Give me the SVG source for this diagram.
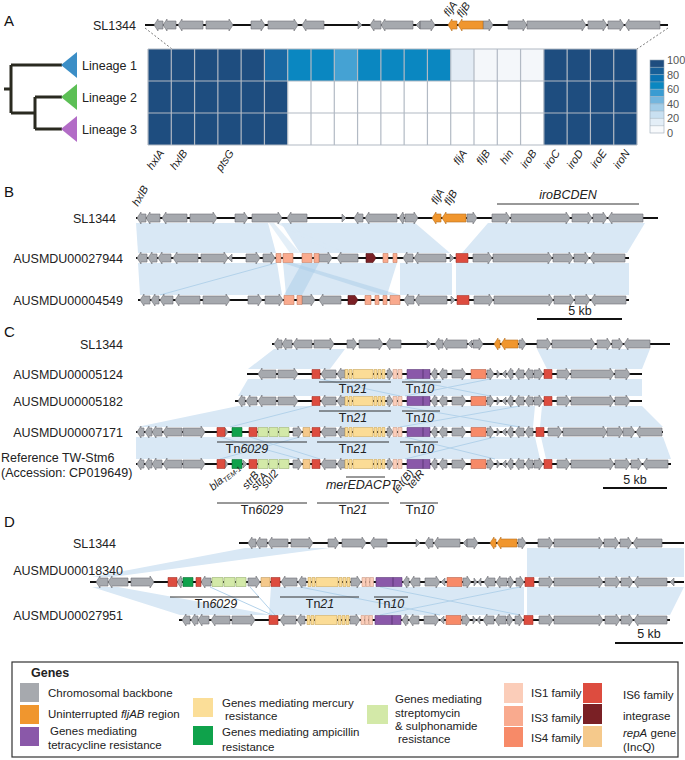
<svg xmlns="http://www.w3.org/2000/svg" xmlns:xlink="http://www.w3.org/1999/xlink" width="685" height="760" viewBox="0 0 685 760">
<style>
.g{fill:#a6a9ae;stroke:#6e7176;stroke-width:.6}
.o{fill:#f0962e;stroke:#b8701f;stroke-width:.6}
.p{fill:#8a58a9;stroke:#5e3a78;stroke-width:.6}
.y{fill:#fbdc96;stroke:#c9a65a;stroke-width:.6}
.gn{fill:#0fa24b;stroke:#0a6e33;stroke-width:.6}
.lg{fill:#d3e9a8;stroke:#98b071;stroke-width:.6}
.i1{fill:#fbcdb9;stroke:#c99a86;stroke-width:.6}
.i3{fill:#f9aa8e;stroke:#c47c62;stroke-width:.6}
.i4{fill:#f78a68;stroke:#b8604a;stroke-width:.6}
.i6{fill:#dd4c3f;stroke:#a3322a;stroke-width:.6}
.in{fill:#7a2025;stroke:#4e1215;stroke-width:.6}
.rp{fill:#f5c98b;stroke:#c09a60;stroke-width:.6}
.ln{stroke:#111;stroke-width:2;fill:none}
.sh{fill:#d9e8f5}
.xl{stroke:#b3d2ea;stroke-width:1;fill:none}
.t{font-family:"Liberation Sans",Arial,sans-serif;font-size:12.5px;fill:#222}
.s11{font-family:"Liberation Sans",Arial,sans-serif;font-size:11px;fill:#222}
.lt{font-family:"Liberation Sans",Arial,sans-serif;font-size:11.5px;fill:#222}
.it{font-style:italic}
.pl{font-family:"Liberation Sans",Arial,sans-serif;font-size:15px;fill:#111}
.bar{stroke:#111;stroke-width:2}
.tn{stroke:#333;stroke-width:1}
</style>
<defs>
<g id="bR"><path class="g" d="M403 0l4-6v2H413v8H407v2zM414 0l4-6v2H446v8H418v2zM450 -4l4 4-4 4zM473 -4H488v-2l4 6-4 6v-2H473zM493 -4H548v-2l4 6-4 6v-2H493zM553 -4H569v-2l4 6-4 6v-2H553zM574 -4H585v-2l4 6-4 6v-2H574zM590 0l4-6v2H625v8H594v2z"/><path class="i6" d="M456 -4.5H468v9H456z"/></g>
<g id="cT"><path class="g" d="M321 0l4-6v2H336v8H325v2zM337 0l4-6v2H345v8H341v2zM387 -4H389v-2l4 6-4 6v-2H387zM431 0l4-6v2H437v8H435v2zM439 0l4-6v2H447v8H443v2zM452 -4H462v-2l4 6-4 6v-2H452zM487 -4H490v-2l4 6-4 6v-2H487zM497 -4l3 4-3 4zM506 -4l-4 4 4 4zM507 0l4-6v2H513v8H511v2zM515 0l4-6v2H524v8H519v2zM525 0l4-6v2H533v8H529v2z"/><path class="i6" d="M312 -4.5H320v9H312z"/><path class="y" d="M345 -4.5h3v9h-3zM349 -4.5h3v9h-3zM353 -4.5H373v9H353zM374 -4.5h3v9h-3zM378 -4.5h3v9h-3zM382 -4.5h3v9h-3z"/><path class="i1" d="M393 -4.5h4v9h-4zM398 -4.5h4v9h-4z"/><path class="p" d="M407 -4.5H423v9H407zM423 -4.5H430v9H423z"/><path class="i4" d="M471 -4.5H486v9H471z"/></g>
<g id="cL"><path class="g" d="M137 0l4-6v2H144v8H141v2zM145 0l4-6v2H152v8H149v2zM152 0l4-6v2H162v8H156v2zM163 0l4-6v2H182v8H167v2zM183 -4H201v-2l4 6-4 6v-2H183zM225 -4l3 4-3 4zM293 -4H298v-2l4 6-4 6v-2H293z"/><path class="i6" d="M217 -4.5H225v9H217zM249 -4.5H257v9H249z"/><path class="gn" d="M232 -4.5H242v9H232z"/><path class="lg" d="M258 -4.5H268v9H258zM269 -4.5H278v9H269zM279 -4.5H289v9H279z"/><path class="rp" d="M303 -4.5H310v9H303z"/></g>
<g id="cR"><path class="g" d="M534 -4H539v-2l4 6-4 6v-2H534zM557 -4H566v-2l4 6-4 6v-2H557zM571 -4H610v-2l4 6-4 6v-2H571zM615 -4H626v-2l4 6-4 6v-2H615z"/><path class="i6" d="M544 -4.5H552v9H544z"/></g>
<g id="dM"><path class="g" d="M281 0l4-6v2H297v8H285v2zM298 0l4-6v2H306v8H302v2zM351 -4H357v-2l4 6-4 6v-2H351zM403 0l4-6v2H409v8H407v2zM410 0l4-6v2H420v8H414v2zM425 -4H436v-2l4 6-4 6v-2H425zM445 -4l-4 4 4 4zM463 -4H467v-2l4 6-4 6v-2H463zM474 -4l3 4-3 4zM481 -4l-3 4 3 4zM484 0l4-6v2H495v8H488v2zM496 0l4-6v2H507v8H500v2zM508 -4H510v-2l4 6-4 6v-2H508zM516 -4H520v-2l4 6-4 6v-2H516z"/><path class="y" d="M308 -4.5h3v9h-3zM312 -4.5h3v9h-3zM316 -4.5H338v9H316zM339 -4.5h3v9h-3zM343 -4.5h3v9h-3zM347 -4.5h3v9h-3z"/><path class="i1" d="M362 -4.5h3.5v9h-3.5zM366 -4.5h3.5v9h-3.5zM370 -4.5h3.5v9h-3.5z"/><path class="p" d="M376 -4.5H393v9H376zM393 -4.5H402v9H393z"/><path class="i4" d="M447 -4.5H462v9H447z"/><path class="i6" d="M525 -4.5H534v9H525z"/></g>
<g id="dR"><path class="g" d="M539 -4H549v-2l4 6-4 6v-2H539zM554 -4H599v-2l4 6-4 6v-2H554zM605 -4H616v-2l4 6-4 6v-2H605zM621 -4H629v-2l4 6-4 6v-2H621zM634 0l4-6v2H667v8H638v2z"/></g>
</defs>
<rect width="685" height="760" fill="#fff"/>

<!-- connectors / shading -->
<g id="connectors">
<path d="M145 28L172 49M668 28L637 49" stroke="#555" stroke-width=".8" stroke-dasharray="2,2" fill="none"/>
<polygon class="sh" points="136,223 268,223 276,253 138,253"/>
<polygon class="sh" points="281,223 415,223 450,253 300,253"/>
<polygon class="sh" points="269,223 274,223 300,253 290,253" opacity=".7"/>
<polygon class="sh" points="276,223 280,223 345,253 335,253" opacity=".7"/>
<polygon class="sh" points="488,223 645,223 627,253 462,253"/>
<polygon class="sh" points="138,263 277,263 282,295 140,295"/>
<polygon class="sh" points="283,263 397,263 387,295 286,295"/>
<polygon class="sh" points="400,263 452,263 452,295 400,295"/>
<polygon class="sh" points="456,263 629,263 629,295 456,295"/>
<polygon points="283,263 293,263 400,295 383,295" fill="#a9cbe8" opacity=".5"/>
<polygon points="302,263 319,263 302,295 284,295" fill="#a9cbe8" opacity=".5"/>
<path class="xl" d="M160 295L276 263"/>
<polygon class="sh" points="274,349 345,349 330,369 248,369"/>
<polygon class="sh" points="537,349 650,349 642,369 547,369"/>
<polygon class="sh" points="248,379 642,379 642,396 238,396"/>
<polygon class="sh" points="238,406 535,406 533,427 137,427"/>
<polygon class="sh" points="542,406 642,406 663,427 540,427"/>
<polygon class="sh" points="136,437 535,437 540,459 136,459"/>
<polygon class="sh" points="541,437 663,437 671,459 546,459"/>
<path class="xl" d="M405 379L490 396M490 379L405 396M320 379L400 396M400 406L520 427M520 406L400 427M312 406L230 427M220 437L300 459M300 437L220 459M250 437L320 459M405 437L495 459M495 437L405 459"/>
<polygon class="sh" points="245,548 330,548 112,577 92,577"/>
<polygon class="sh" points="527,548 684,548 684,577 527,577"/>
<polygon class="sh" points="92,587 118,587 272,615 180,615"/>
<polygon class="sh" points="271,587 524,587 524,615 269,615"/>
<polygon class="sh" points="527,587 684,587 670,615 527,615"/>
<path class="xl" d="M210 587L272 615M250 587L275 615M380 587L520 615M520 587L380 615M300 587L440 615"/>
</g>

<!-- Panel labels -->
<text class="pl" x="4" y="26">A</text>
<text class="pl" x="4" y="197">B</text>
<text class="pl" x="4" y="337">C</text>
<text class="pl" x="4" y="527">D</text>

<!-- Panel A -->
<g id="A-SL1344">
<text class="t" x="136" y="29.5" text-anchor="end">SL1344</text>
<g transform="translate(0,25)">
<path class="ln" d="M145 0H668"/>
<path class="g" d="M154 0l4-6v2H163v8H158v2zM163 0l4-6v2H176v8H167v2zM178 0l4-6v2H203v8H182v2zM206 -4H229v-2l4 6-4 6v-2H206zM251 -4H261v-2l4 6-4 6v-2H251zM268 -4H294v-2l4 6-4 6v-2H268zM302 0l4-6v2H324v8H306v2zM358 -4l4 4-4 4zM370 0l4-6v2H381v8H374v2zM381 0l4-6v2H413v8H385v2zM420 -4l-4 4 4 4zM420 -4H431v-2l4 6-4 6v-2H420zM483 -4H489v-2l4 6-4 6v-2H483zM508 -4H523v-2l4 6-4 6v-2H508zM527 -4H582v-2l4 6-4 6v-2H527zM588 -4H603v-2l4 6-4 6v-2H588zM608 -4H620v-2l4 6-4 6v-2H608zM625 0l4-6v2H660v8H629v2z"/>
<path class="o" d="M448 0l4-6v2H457v8H452v2zM458 0l4-6v2H483v8H462v2z"/>
</g>
<text class="s11 it" transform="translate(449,17) rotate(-55)">fljA</text>
<text class="s11 it" transform="translate(462,18) rotate(-55)">fljB</text>
</g>

<g id="tree">
<path d="M4 89H11M11 65V113M11 65H62M11 113H35M35 97V129M35 97H62M35 129H62" stroke="#2a2a20" stroke-width="3" fill="none"/>
</g>
<g id="lineage1"><polygon points="61,65 77,52 77,78" fill="#3b8ec6"/><text class="t" x="82" y="69.5">Lineage 1</text></g>
<g id="lineage2"><polygon points="61,97 77,84 77,110" fill="#5cbf55"/><text class="t" x="82" y="101.5">Lineage 2</text></g>
<g id="lineage3"><polygon points="61,129 77,116 77,142" fill="#b26cc6"/><text class="t" x="82" y="133.5">Lineage 3</text></g>

<g id="heatmap">
<rect x="148" y="49" width="116.43" height="32" fill="#1e4d7f"/>
<rect x="264.43" y="49" width="23.28" height="32" fill="#1868a3"/>
<rect x="287.71" y="49" width="46.58" height="32" fill="#0a87c1"/>
<rect x="334.29" y="49" width="23.28" height="32" fill="#45a2d3"/>
<rect x="357.57" y="49" width="93.14" height="32" fill="#0a87c1"/>
<rect x="450.71" y="49" width="23.29" height="32" fill="#e3ecf5"/>
<rect x="474" y="49" width="69.86" height="32" fill="#f4f7fa"/>
<rect x="543.86" y="49" width="93.14" height="32" fill="#1e4d7f"/>
<rect x="148" y="81" width="139.71" height="64" fill="#1e4d7f"/>
<rect x="287.71" y="81" width="256.15" height="64" fill="#fff"/>
<rect x="543.86" y="81" width="93.14" height="64" fill="#1e4d7f"/>
<path d="M148 49V145M171.29 49V145M194.57 49V145M217.86 49V145M241.14 49V145M264.43 49V145M287.71 49V145M311 49V145M334.29 49V145M357.57 49V145M380.86 49V145M404.14 49V145M427.43 49V145M450.71 49V145M474 49V145M497.29 49V145M520.57 49V145M543.86 49V145M567.14 49V145M590.43 49V145M613.71 49V145M637 49V145M148 49H637M148 81H637M148 113H637M148 145H637" stroke="#b2bac4" stroke-width="1.2" fill="none"/>
<text class="s11 it" text-anchor="end" transform="translate(164.6,153) rotate(-55)">hxlA</text>
<text class="s11 it" text-anchor="end" transform="translate(187.9,153) rotate(-55)">hxlB</text>
<text class="s11 it" text-anchor="end" transform="translate(234.5,153) rotate(-55)">ptsG</text>
<text class="s11 it" text-anchor="end" transform="translate(467.4,153) rotate(-55)">fljA</text>
<text class="s11 it" text-anchor="end" transform="translate(490.6,153) rotate(-55)">fljB</text>
<text class="s11 it" text-anchor="end" transform="translate(513.9,153) rotate(-55)">hin</text>
<text class="s11 it" text-anchor="end" transform="translate(537.2,153) rotate(-55)">iroB</text>
<text class="s11 it" text-anchor="end" transform="translate(560.5,153) rotate(-55)">iroC</text>
<text class="s11 it" text-anchor="end" transform="translate(583.8,153) rotate(-55)">iroD</text>
<text class="s11 it" text-anchor="end" transform="translate(607.1,153) rotate(-55)">iroE</text>
<text class="s11 it" text-anchor="end" transform="translate(630.4,153) rotate(-55)">iroN</text>
</g>

<g id="colorbar">
<rect x="650" y="60" width="14" height="7.3" fill="#1e4d7f"/>
<rect x="650" y="67.3" width="14" height="7.3" fill="#175f98"/>
<rect x="650" y="74.6" width="14" height="7.3" fill="#0a73b3"/>
<rect x="650" y="81.9" width="14" height="7.3" fill="#0a87c1"/>
<rect x="650" y="89.2" width="14" height="7.3" fill="#3a9cd2"/>
<rect x="650" y="96.5" width="14" height="7.3" fill="#74b6de"/>
<rect x="650" y="103.8" width="14" height="7.3" fill="#a3cde8"/>
<rect x="650" y="111.1" width="14" height="7.3" fill="#c9e0f1"/>
<rect x="650" y="118.4" width="14" height="7.3" fill="#e3eef7"/>
<rect x="650" y="125.7" width="14" height="7.3" fill="#f8fafc"/>
<path d="M650 67.3H664M650 74.6H664M650 81.9H664M650 89.2H664M650 96.5H664M650 103.8H664M650 111.1H664M650 118.4H664M650 125.7H664" stroke="#9aa8b6" stroke-width=".5"/>
<rect x="650" y="60" width="14" height="73" fill="none" stroke="#9aa8b6" stroke-width=".6"/>
<g class="s11" style="fill:#555">
<text x="667" y="64">100</text><text x="667" y="78.6">80</text><text x="667" y="93.2">60</text><text x="667" y="107.8">40</text><text x="667" y="122.4">20</text><text x="667" y="137">0</text>
</g>
</g>

<!-- Panel B -->
<g id="B-SL1344">
<text class="t" x="116" y="222.5" text-anchor="end">SL1344</text>
<g transform="translate(0,218)">
<path class="ln" d="M136 0H658"/>
<path class="g" d="M137 0l4-6v2H146v8H141v2zM146 0l4-6v2H160v8H150v2zM162 0l4-6v2H187v8H166v2zM190 -4H213v-2l4 6-4 6v-2H190zM235 -4H244v-2l4 6-4 6v-2H235zM252 -4H278v-2l4 6-4 6v-2H252zM287 0l4-6v2H307v8H291v2zM342 -4l4 4-4 4zM354 0l4-6v2H363v8H358v2zM365 0l4-6v2H397v8H369v2zM399 0l4-6v2H404v8H403v2zM405 -4H414v-2l4 6-4 6v-2H405zM467 -4H473v-2l4 6-4 6v-2H467zM492 -4H506v-2l4 6-4 6v-2H492zM511 -4H566v-2l4 6-4 6v-2H511zM572 -4H588v-2l4 6-4 6v-2H572zM593 -4H603v-2l4 6-4 6v-2H593zM608 0l4-6v2H643v8H612v2z"/>
<path class="o" d="M432 0l4-6v2H441v8H436v2zM442 0l4-6v2H466v8H446v2z"/>
</g>
<text class="s11 it" transform="translate(138,207) rotate(-60)">hxlB</text>
<text class="s11 it" transform="translate(437,205) rotate(-60)">fljA</text>
<text class="s11 it" transform="translate(450,206) rotate(-60)">fljB</text>
<path class="tn" d="M497 204H639"/>
<text class="t it" x="568" y="199" text-anchor="middle">iroBCDEN</text>
</g>

<g id="B-AUSMDU00027944">
<text class="t" x="123" y="262.5" text-anchor="end">AUSMDU00027944</text>
<g transform="translate(0,258)">
<path class="ln" d="M136 0H629"/>
<path class="g" d="M137 0l4-6v2H147v8H141v2zM148 0l4-6v2H157v8H152v2zM158 0l4-6v2H171v8H162v2zM173 0l4-6v2H198v8H177v2zM201 -4H224v-2l4 6-4 6v-2H201zM232 -4l-4 4 4 4zM246 -4H256v-2l4 6-4 6v-2H246zM263 -4H271v-2l4 6-4 6v-2H263zM319 -4H328v-2l4 6-4 6v-2H319zM337 0l4-6v2H358v8H341v2z"/>
<path class="i3" d="M276 -4.5H281v9H276zM283 -4.5H293v9H283zM302 -4.5H312v9H302zM314 -4.5H319v9H314zM383 -4.5H388v9H383zM393 -4.5H397v9H393z"/>
<path class="in" d="M366 -4.5H373l3 4.5-3 4.5H366z"/>
<use xlink:href="#bR" href="#bR"/>
</g>
</g>

<g id="B-AUSMDU00004549">
<text class="t" x="123" y="304.5" text-anchor="end">AUSMDU00004549</text>
<g transform="translate(0,300)">
<path class="ln" d="M138 0H629"/>
<path class="g" d="M140 0l4-6v2H150v8H144v2zM151 0l4-6v2H159v8H155v2zM160 0l4-6v2H173v8H164v2zM175 0l4-6v2H200v8H179v2zM203 -4H226v-2l4 6-4 6v-2H203zM248 -4H258v-2l4 6-4 6v-2H248zM265 -4H279v-2l4 6-4 6v-2H265zM302 -4H311v-2l4 6-4 6v-2H302zM319 0l4-6v2H341v8H323v2z"/>
<path class="i3" d="M284 -4.5H294v9H284zM297 -4.5H302v9H297zM365 -4.5H371v9H365zM375 -4.5H379v9H375zM383 -4.5H387v9H383zM390 -4.5H400v9H390z"/>
<path class="in" d="M348 -4.5H355l3 4.5-3 4.5H348z"/>
<use xlink:href="#bR" href="#bR" x="1"/>
</g>
</g>

<g id="B-scale">
<path class="bar" d="M537 319H622"/>
<text class="t" x="580" y="315" text-anchor="middle">5 kb</text>
</g>

<!-- Panel C -->
<g id="C-SL1344">
<text class="t" x="123" y="348.5" text-anchor="end">SL1344</text>
<g transform="translate(0,344)">
<path class="ln" d="M272 0H670"/>
<path class="g" d="M274 0l4-6v2H282v8H278v2zM282 0l4-6v2H292v8H286v2zM293 0l4-6v2H312v8H297v2zM314 -4H330v-2l4 6-4 6v-2H314zM347 -4H353v-2l4 6-4 6v-2H347zM359 -4H379v-2l4 6-4 6v-2H359zM386 0l4-6v2H401v8H390v2zM427 -4l4 4-4 4zM435 0l4-6v2H443v8H439v2zM443 0l4-6v2H467v8H447v2zM472 -4l-4 4 4 4zM473 -4H479v-2l4 6-4 6v-2H473zM519 -4H522v-2l4 6-4 6v-2H519zM537 -4H547v-2l4 6-4 6v-2H537zM552 -4H591v-2l4 6-4 6v-2H552zM597 -4H607v-2l4 6-4 6v-2H597zM612 -4H619v-2l4 6-4 6v-2H612zM624 0l4-6v2H650v8H628v2z"/>
<path class="o" d="M494 0l4-6v2H500v8H498v2zM501 0l4-6v2H518v8H505v2z"/>
</g>
</g>

<g id="C-AUSMDU00005124">
<text class="t" x="123" y="378.5" text-anchor="end">AUSMDU00005124</text>
<g transform="translate(0,374)">
<path class="ln" d="M247 0H642"/>
<path class="g" d="M258 0l4-6v2H276v8H262v2zM278 -4H294v-2l4 6-4 6v-2H278z"/>
<use xlink:href="#cT" href="#cT"/><use xlink:href="#cR" href="#cR"/>
</g>
<path class="tn" d="M319 382H391M402 382H441"/>
<text class="t" x="353" y="393" text-anchor="middle">Tn<tspan class="it">21</tspan></text>
<text class="t" x="420" y="393" text-anchor="middle">Tn<tspan class="it">10</tspan></text>
</g>

<g id="C-AUSMDU00005182">
<text class="t" x="123" y="405.5" text-anchor="end">AUSMDU00005182</text>
<g transform="translate(0,401)">
<path class="ln" d="M235 0H642"/>
<path class="g" d="M238 0l4-6v2H245v8H242v2zM246 0l4-6v2H257v8H250v2zM258 0l4-6v2H276v8H262v2zM278 -4H294v-2l4 6-4 6v-2H278z"/>
<use xlink:href="#cT" href="#cT"/><use xlink:href="#cR" href="#cR"/>
</g>
<path class="tn" d="M319 411H391M402 411H440"/>
<text class="t" x="353" y="422" text-anchor="middle">Tn<tspan class="it">21</tspan></text>
<text class="t" x="420" y="422" text-anchor="middle">Tn<tspan class="it">10</tspan></text>
</g>

<g id="C-AUSMDU00007171">
<text class="t" x="123" y="436.5" text-anchor="end">AUSMDU00007171</text>
<g transform="translate(0,432)">
<path class="ln" d="M136 0H663"/>
<use xlink:href="#cL" href="#cL"/><use xlink:href="#cT" href="#cT"/>
<path class="g" d="M548 -4H558v-2l4 6-4 6v-2H548zM563 -4H603v-2l4 6-4 6v-2H563zM607 -4H619v-2l4 6-4 6v-2H607zM623 -4H631v-2l4 6-4 6v-2H623zM636 0l4-6v2H662v8H640v2z"/>
<path class="i6" d="M536 -4.5H544v9H536z"/>
</g>
<path class="tn" d="M217 442H307M317 442H389M400 442H438"/>
<text class="t" x="247" y="453" text-anchor="middle">Tn<tspan class="it">6029</tspan></text>
<text class="t" x="353" y="453" text-anchor="middle">Tn<tspan class="it">21</tspan></text>
<text class="t" x="420" y="453" text-anchor="middle">Tn<tspan class="it">10</tspan></text>
</g>

<g id="C-TW-Stm6">
<text class="t" x="1" y="462">Reference TW-Stm6</text>
<text class="t" x="1" y="477">(Accession: CP019649)</text>
<g transform="translate(0,464)">
<path class="ln" d="M136 0H671"/>
<use xlink:href="#cL" href="#cL"/><use xlink:href="#cT" href="#cT"/><use xlink:href="#cR" href="#cR"/>
<path class="g" d="M243 -4l4 4-4 4zM631 -4H638v-2l4 6-4 6v-2H631zM643 0l4-6v2H668v8H647v2z"/>
</g>
<text class="s11 it" transform="translate(213,491) rotate(-40)">bla<tspan font-size="7" dy="2">TEM-1</tspan></text>
<text class="s11 it" transform="translate(247,490) rotate(-50)">strB</text>
<text class="s11 it" transform="translate(256,491) rotate(-50)">strA</text>
<text class="s11 it" transform="translate(266,489) rotate(-50)">sul2</text>
<path class="tn" d="M346 477H385"/>
<text class="t it" x="362" y="489" text-anchor="middle">merEDACPT</text>
<text class="s11 it" transform="translate(397,494) rotate(-50)">tet(B)</text>
<text class="s11 it" transform="translate(412,489) rotate(-50)">tetR</text>
<path class="tn" d="M217 503H307M317 503H389M400 503H438"/>
<text class="t" x="262" y="514" text-anchor="middle">Tn<tspan class="it">6029</tspan></text>
<text class="t" x="353" y="514" text-anchor="middle">Tn<tspan class="it">21</tspan></text>
<text class="t" x="420" y="514" text-anchor="middle">Tn<tspan class="it">10</tspan></text>
</g>

<g id="C-scale">
<path class="bar" d="M603 488H667"/>
<text class="t" x="635" y="484" text-anchor="middle">5 kb</text>
</g>

<!-- Panel D -->
<g id="D-SL1344">
<text class="t" x="116" y="547.5" text-anchor="end">SL1344</text>
<g transform="translate(0,543)">
<path class="ln" d="M239 0H684"/>
<path class="g" d="M248 0l4-6v2H256v8H252v2zM256 0l4-6v2H267v8H260v2zM268 0l4-6v2H288v8H272v2zM291 -4H309v-2l4 6-4 6v-2H291zM328 -4H335v-2l4 6-4 6v-2H328zM342 -4H362v-2l4 6-4 6v-2H342zM370 0l4-6v2H387v8H374v2zM416 -4l4 4-4 4zM425 0l4-6v2H433v8H429v2zM434 0l4-6v2H460v8H438v2zM467 -4l-4 4 4 4zM467 -4H474v-2l4 6-4 6v-2H467zM518 -4H522v-2l4 6-4 6v-2H518zM538 -4H549v-2l4 6-4 6v-2H538zM554 -4H599v-2l4 6-4 6v-2H554zM604 -4H615v-2l4 6-4 6v-2H604zM620 -4H628v-2l4 6-4 6v-2H620zM633 0l4-6v2H662v8H637v2z"/>
<path class="o" d="M490 0l4-6v2H496v8H494v2zM497 0l4-6v2H517v8H501v2z"/>
</g>
</g>

<g id="D-AUSMDU00018340">
<text class="t" x="123" y="574.5" text-anchor="end">AUSMDU00018340</text>
<g transform="translate(0,582)">
<path class="ln" d="M90 0H684"/>
<path class="g" d="M96 0l4-6v2H108v8H100v2zM108 0l4-6v2H128v8H112v2zM131 -4H150v-2l4 6-4 6v-2H131zM177 0l4-6v2H182v8H181v2zM201 0l4-6v2H211v8H205v2zM248 -4H256v-2l4 6-4 6v-2H248zM674 -4l-4 4 4 4z"/>
<path class="i6" d="M168 -4.5H177v9H168zM196 -4.5H201v9H196zM271 -4.5H280v9H271z"/>
<path class="gn" d="M183 -4.5H193v9H183z"/>
<path class="lg" d="M212 -4.5H223v9H212zM224 -4.5H235v9H224zM236 -4.5H246v9H236z"/>
<path class="rp" d="M261 -4.5H270v9H261z"/>
<use xlink:href="#dM" href="#dM"/><use xlink:href="#dR" href="#dR"/>
</g>
<path class="tn" d="M170 597H259M280 597H359M374 597H408"/>
<text class="t" x="216" y="608" text-anchor="middle">Tn<tspan class="it">6029</tspan></text>
<text class="t" x="320" y="608" text-anchor="middle">Tn<tspan class="it">21</tspan></text>
<text class="t" x="390" y="608" text-anchor="middle">Tn<tspan class="it">10</tspan></text>
</g>

<g id="D-AUSMDU00027951">
<text class="t" x="123" y="619.5" text-anchor="end">AUSMDU00027951</text>
<g transform="translate(0,620)">
<path class="ln" d="M179 0H670"/>
<path class="g" d="M182 0l4-6v2H190v8H186v2zM191 0l4-6v2H198v8H195v2zM198 0l4-6v2H209v8H202v2zM211 0l4-6v2H230v8H215v2zM232 -4H251v-2l4 6-4 6v-2H232z"/>
<path class="i6" d="M269 -4.5H278v9H269z"/>
<use xlink:href="#dM" href="#dM" x="-1"/><use xlink:href="#dR" href="#dR"/>
</g>
</g>

<g id="D-scale">
<path class="bar" d="M615 643H683"/>
<text class="t" x="649" y="638" text-anchor="middle">5 kb</text>
</g>

<!-- Legend -->
<g id="legend">
<rect x="12" y="662" width="666" height="95" fill="#fff" stroke="#333" stroke-width="1.2"/>
<text class="t" x="31" y="677" font-weight="bold">Genes</text>
<rect x="20" y="683" width="19" height="19" fill="#a6a9ae"/>
<rect x="20" y="705" width="19" height="19" fill="#f0962e"/>
<rect x="20" y="727" width="19" height="19" fill="#8a58a9"/>
<text class="lt" x="48" y="697">Chromosomal backbone</text>
<text class="lt" x="48" y="718">Uninterrupted <tspan class="it">fljAB</tspan> region</text>
<text class="lt" x="50" y="735">Genes mediating</text>
<text class="lt" x="48" y="749">tetracycline resistance</text>
<rect x="193" y="698" width="20" height="19" fill="#fbde98"/>
<rect x="193" y="726" width="20" height="19" fill="#0fa24b"/>
<text class="lt" x="222" y="707">Genes mediating mercury</text>
<text class="lt" x="225" y="720">resistance</text>
<text class="lt" x="222" y="736">Genes mediating ampicillin</text>
<text class="lt" x="222" y="751">resistance</text>
<rect x="367" y="705" width="21" height="19" fill="#d3e9a8"/>
<text class="lt" x="395" y="703">Genes mediating</text>
<text class="lt" x="395" y="717">streptomycin</text>
<text class="lt" x="395" y="730">&amp; sulphonamide</text>
<text class="lt" x="398" y="743">resistance</text>
<rect x="504" y="683" width="19" height="20" fill="#fbcdb9"/>
<rect x="504" y="706" width="19" height="20" fill="#f9aa8e"/>
<rect x="504" y="727" width="19" height="20" fill="#f78a68"/>
<text class="lt" x="531" y="697">IS<tspan>1</tspan> family</text>
<text class="lt" x="531" y="722">IS3 family</text>
<text class="lt" x="531" y="742">IS4 family</text>
<rect x="583" y="683" width="19" height="20" fill="#dd4c3f"/>
<rect x="583" y="704" width="19" height="20" fill="#7a2025"/>
<rect x="583" y="726" width="19" height="21" fill="#f5c98b"/>
<text class="lt" x="623" y="699">IS6 family</text>
<text class="lt" x="623" y="720">integrase</text>
<text class="lt" x="623" y="737"><tspan class="it">repA</tspan> gene</text>
<text class="lt" x="623" y="751">(IncQ)</text>
</g>
</svg>
